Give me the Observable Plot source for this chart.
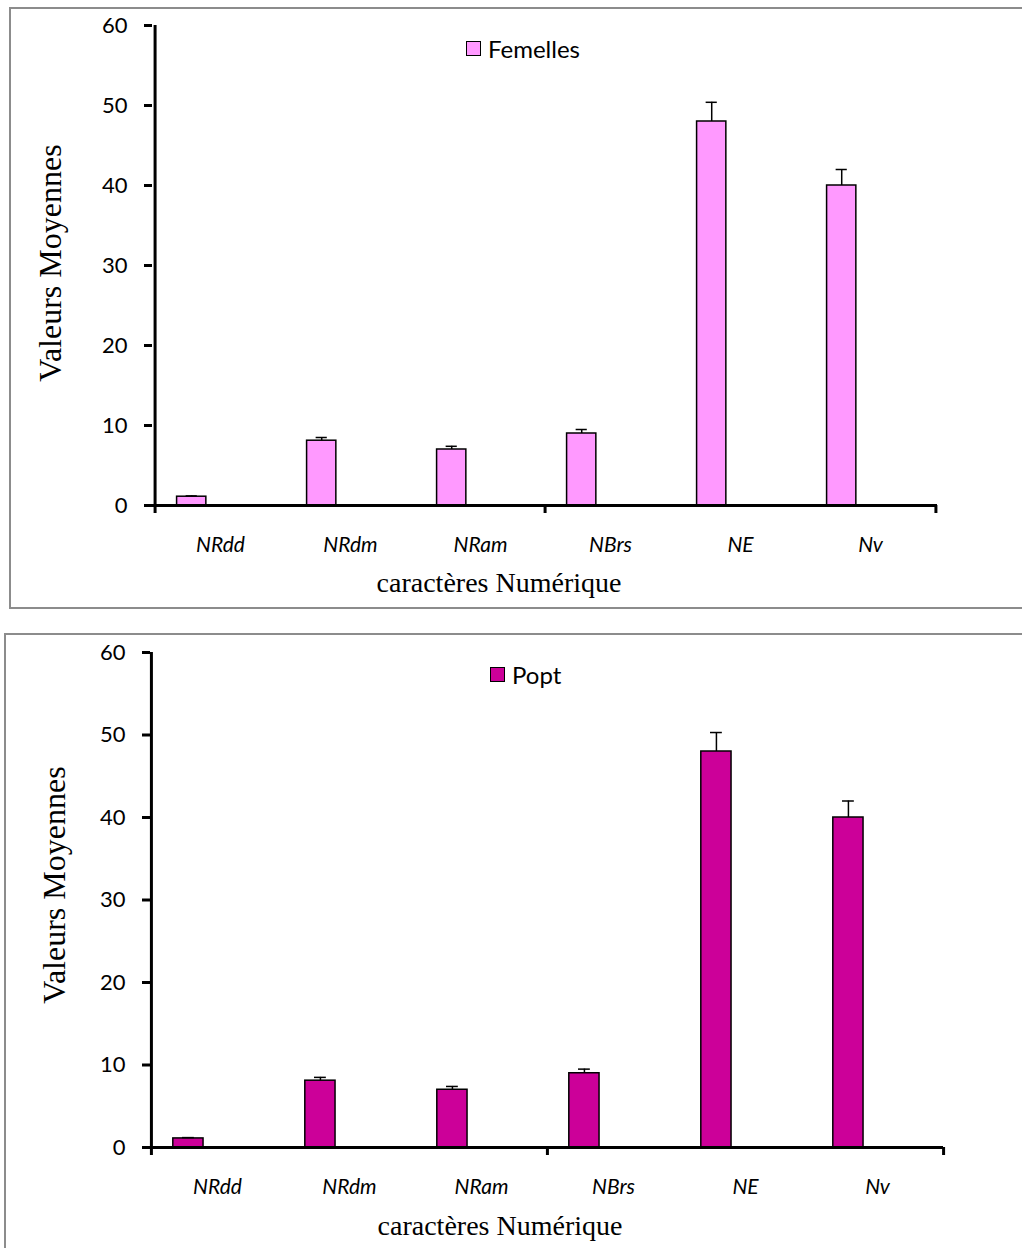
<!DOCTYPE html>
<html>
<head>
<meta charset="utf-8">
<script src="https://cdn.jsdelivr.net/npm/d3@7"></script>
<script src="https://cdn.jsdelivr.net/npm/@observablehq/plot@0.6"></script>
<style>
  html, body { margin: 0; padding: 0; background: #fff; }
  body { position: relative; width: 1022px; height: 1248px; overflow: hidden; }
  .panel { position: absolute; border: 2px solid #8c8c8c; border-right: none; box-sizing: border-box; background: #fff; }
  .holder { position: absolute; left: 0; }
  .ytitle, .xtitle { position: absolute; font-family: "Liberation Serif", "Times New Roman", serif; font-size: 28px; color: #000; white-space: nowrap; }
  .ytitle { font-size: 32px; transform: translate(-50%, -50%) rotate(-90deg); }
  .xtitle { transform: translate(-50%, -50%); }
  .legend { position: absolute; font-family: Lato, "Open Sans", sans-serif; font-size: 24px; color: #000; display: flex; align-items: center; white-space: nowrap; }
  .legend .sw { width: 13px; height: 13px; border: 1.5px solid #000; margin-right: 7px; }
</style>
</head>
<body>
<div class="panel" style="left:9px; top:7px; width:1020px; height:602px;"></div>
<div class="panel" style="left:4px; top:633px; width:1025px; height:640px;"></div>
<div id="c1" class="holder" style="top:0px;"></div>
<div id="c2" class="holder" style="top:600px;"></div>

<div class="ytitle" style="left:50px; top:263px;">Valeurs Moyennes</div>
<div class="xtitle" style="left:499px; top:583px;">caractères Numérique</div>
<div class="legend" style="left:466px; top:34px;"><div class="sw" style="background:#FF99FF"></div>Femelles</div>

<div class="ytitle" style="left:54px; top:885px;">Valeurs Moyennes</div>
<div class="xtitle" style="left:500px; top:1226px;">caractères Numérique</div>
<div class="legend" style="left:490px; top:660px;"><div class="sw" style="background:#CC0099"></div>Popt</div>

<script>
// ---- data ----
const categories = ["NRdd", "NRdm", "NRam", "NBrs", "NE", "Nv"];
const femellesValues = [1.1, 8.1, 7.0, 9.0, 48.0, 40.0];
const femellesErrors = [0.1, 0.4, 0.4, 0.5, 2.4, 2.0];
const poptValues = [1.1, 8.1, 7.0, 9.0, 48.0, 40.0];
const poptErrors = [0.1, 0.4, 0.4, 0.5, 2.3, 2.0];
const yTicks = [0, 10, 20, 30, 40, 50, 60];
const axisBreaks = ["NRdd", "NBrs"]; // category-axis tick marks (every 3 categories)

function makeChart({values, errors, color, height, marginTop, marginBottom, marginLeft, marginRight}) {
  const width = 1022;
  const rows = categories.map((c, i) => ({cat: c, v: values[i], e: errors[i], hi: values[i] + errors[i]}));
  const bw = (width - marginLeft - marginRight) / categories.length;
  const barL = bw * 0.165, barR = bw * 0.395; // bar occupies left part of band (Excel clustered layout)
  const off = (barL + barR) / 2 - bw / 2;
  const tickLen = 8 / ((height - marginTop - marginBottom) / 60);
  return Plot.plot({
    width, height, marginTop, marginBottom, marginLeft, marginRight,
    style: {fontFamily: "Lato, 'Open Sans', sans-serif", fontSize: "21px", color: "#000", background: "transparent", overflow: "visible"},
    x: {type: "band", domain: categories, padding: 0, label: null},
    y: {domain: [0, 60], label: null},
    marks: [
      Plot.barY(rows, {x: "cat", y: "v", fill: color, stroke: "#000", strokeWidth: 1.5, insetLeft: barL, insetRight: bw - barR}),
      Plot.ruleX(rows, {x: "cat", y1: "v", y2: "hi", dx: off, stroke: "#000", strokeWidth: 1.5}),
      Plot.tickY(rows, {x: "cat", y: "hi", stroke: "#000", strokeWidth: 1.5, insetLeft: bw / 2 + off - 6, insetRight: bw / 2 - off - 6}),
      Plot.ruleY([0], {stroke: "#000", strokeWidth: 3}),
      Plot.ruleX([categories[0]], {x: d => d, y1: 0, y2: 60, dx: -bw / 2, stroke: "#000", strokeWidth: 3}),
      Plot.ruleX(axisBreaks, {x: d => d, y1: 0, y2: -tickLen, dx: -bw / 2, stroke: "#000", strokeWidth: 3}),
      Plot.ruleX([categories[categories.length - 1]], {x: d => d, y1: 0, y2: -tickLen, dx: bw / 2, stroke: "#000", strokeWidth: 3}),
      Plot.axisY({ticks: yTicks, tickSize: 8, tickPadding: 17, strokeWidth: 3, label: null, fontSize: 22}),
      Plot.axisX({tickSize: 0, tickPadding: 32, label: null, fontStyle: "italic", fontSize: 21})
    ]
  });
}

document.getElementById("c1").appendChild(makeChart({
  values: femellesValues, errors: femellesErrors, color: "#FF99FF",
  height: 615, marginTop: 25, marginBottom: 110, marginLeft: 152, marginRight: 85
}));
document.getElementById("c2").appendChild(makeChart({
  values: poptValues, errors: poptErrors, color: "#CC0099",
  height: 648, marginTop: 52, marginBottom: 101, marginLeft: 150, marginRight: 79
}));
</script>
</body>
</html>
